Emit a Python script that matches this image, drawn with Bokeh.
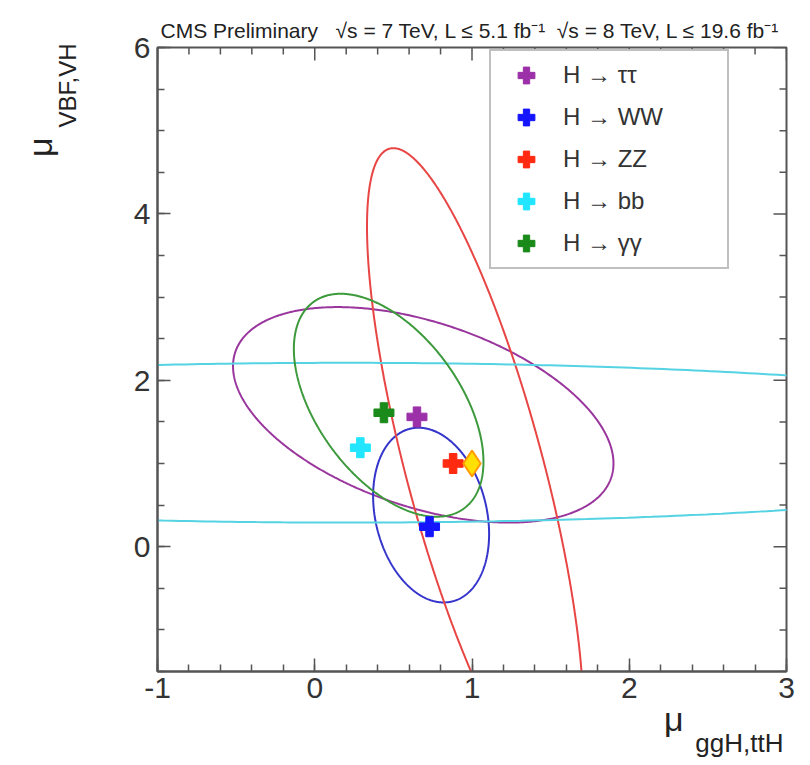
import numpy as np
from bokeh.plotting import figure
from bokeh.models import (Range1d, LinearAxis, SingleIntervalTicker, Legend, LegendItem, Title,
                          CustomJSTickFormatter)
from bokeh.embed import file_html
from bokeh.resources import INLINE

# ---------------- data ----------------
channels = ["H \u2192 \u03c4\u03c4", "H \u2192 WW", "H \u2192 ZZ", "H \u2192 bb", "H \u2192 \u03b3\u03b3"]
best_x = [0.65, 0.73, 0.88, 0.29, 0.44]
best_y = [1.56, 0.24, 1.00, 1.19, 1.61]
marker_colors = ["#9b30a8", "#1414ff", "#ff2a10", "#22e6ff", "#1a8a1a"]
line_colors = ["#99359c", "#3535cc", "#e84545", "#55d3e3", "#3c9a3c"]
# 68% CL contours: centre, offset of the topmost point, half-width at the centre height
cont_cx = [0.69, 0.74, 1.02, 0.20, 0.47]
cont_cy = [1.585, 0.38, 0.92, 1.25, 1.70]
cont_dx = [-0.545, -0.08, -0.52, 0.0, -0.305]
cont_dy = [1.295, 1.05, 3.87, 0.96, 1.34]
cont_w = [1.08, 0.36, 0.45, 5.2, 0.52]
sm_x = [1.0]
sm_y = [1.0]

x_lo, x_hi, x_major, x_minor_n = -1, 3, 1, 5
y_lo, y_hi, y_major, y_minor_n = -1.5, 6, 2, 4

FONT = "Liberation Sans"
AXC = "#555555"
FRAME_W, FRAME_H = 629, 624
NBSP = "\u00a0"

p = figure(width=800, height=762, output_backend="svg", toolbar_location=None,
           x_range=Range1d(x_lo, x_hi), y_range=Range1d(y_lo, y_hi),
           min_border_left=157, min_border_right=14, min_border_top=47, min_border_bottom=91,
           x_axis_location=None, y_axis_location=None)
p.grid.visible = False
p.outline_line_color = AXC
p.outline_line_width = 2


def style_axis(ax):
    ax.axis_line_color = AXC
    ax.axis_line_width = 2
    ax.major_tick_line_color = AXC
    ax.minor_tick_line_color = AXC
    ax.major_tick_line_width = 1.5
    ax.minor_tick_line_width = 1.5
    ax.major_tick_in = 13
    ax.major_tick_out = 0
    ax.minor_tick_in = 7
    ax.minor_tick_out = 0
    ax.major_label_text_font = FONT
    ax.major_label_text_font_size = "30px"
    ax.major_label_text_color = "#333333"


xb = LinearAxis(ticker=SingleIntervalTicker(interval=x_major, num_minor_ticks=x_minor_n))
style_axis(xb)
xb.formatter = CustomJSTickFormatter(code="return tick.toFixed(0)")
xb.major_label_standoff = 6
p.add_layout(xb, "below")

yl = LinearAxis(ticker=SingleIntervalTicker(interval=y_major, num_minor_ticks=y_minor_n))
style_axis(yl)
# leading no-break spaces keep room between the tick labels and the axis title
yl.formatter = CustomJSTickFormatter(code="return '\\u00a0'.repeat(6) + tick.toFixed(0)")
yl.major_label_standoff = 7
p.add_layout(yl, "left")

# ticks on the top and right edges (ROOT style), drawn inside the frame
xt = np.arange(x_lo, x_hi + 1e-9, x_major / x_minor_n)
xt_major = np.isclose(np.mod(xt - x_lo, x_major), 0) | np.isclose(np.mod(xt - x_lo, x_major), x_major)
xt_len = np.where(xt_major, 13, 7) * (y_hi - y_lo) / FRAME_H
p.segment(x0=xt, y0=np.full(len(xt), y_hi), x1=xt, y1=y_hi - xt_len, line_color=AXC, line_width=1.5)
yt = np.arange(y_lo, y_hi + 1e-9, y_major / y_minor_n)
yt_major = np.isclose(np.mod(yt, y_major), 0) | np.isclose(np.mod(yt, y_major), y_major)
yt_len = np.where(yt_major, 13, 7) * (x_hi - x_lo) / FRAME_W
p.segment(x0=np.full(len(yt), x_hi), y0=yt, x1=x_hi - yt_len, y1=yt, line_color=AXC, line_width=1.5)

# contours
t = np.linspace(0, 2 * np.pi, 600)
for i in range(len(channels)):
    xs = cont_cx[i] + cont_dx[i] * np.cos(t) + cont_w[i] * np.sin(t)
    ys = cont_cy[i] + cont_dy[i] * np.cos(t)
    p.line(xs, ys, line_color=line_colors[i], line_width=2)

# best-fit points
items = []
for i in range(len(channels)):
    r = p.scatter([best_x[i]], [best_y[i]], marker="plus", size=20,
                  fill_color=marker_colors[i], line_color=marker_colors[i], line_width=1)
    items.append(LegendItem(label=channels[i], renderers=[r]))
# SM expectation
p.scatter(sm_x, sm_y, marker="diamond", size=26, fill_color="#ffe000", line_color="#ff9a00", line_width=2)

legend = Legend(items=items, location=(332, 402))
legend.label_text_font = FONT
legend.label_text_font_size = "24px"
legend.label_text_color = "#333333"
legend.label_height = 42
legend.glyph_height = 42
legend.glyph_width = 64
legend.label_standoff = 5
legend.label_width = 161
legend.spacing = 0
legend.padding = 3
legend.margin = 0
legend.border_line_color = "#808080"
legend.border_line_width = 2
legend.background_fill_color = "white"
legend.background_fill_alpha = 1
p.add_layout(legend, "center")


def title(text, side, size, align, offset, standoff, valign):
    p.add_layout(Title(text=text, align=align, offset=offset, standoff=standoff, vertical_align=valign,
                       text_font=FONT, text_font_size=size, text_color="#222222",
                       text_font_style="normal"), side)


title("CMS Preliminary" + NBSP * 2 + " \u221as = 7 TeV, L \u2264 5.1 fb\u207b\u00b9" + NBSP +
      " \u221as = 8 TeV, L \u2264 19.6 fb\u207b\u00b9",
      "above", "21px", "left", 3, 12, "bottom")
title("\u03bc", "below", "34px", "right", 103, -2, "top")
title("ggH,ttH", "below", "26px", "right", 3, -21, "top")
title("VBF,VH", "left", "24px", "right", -4, 0, "bottom")
title("\u03bc", "left", "34px", "right", 90, -14, "bottom")

open("out.html", "w").write(file_html(p, INLINE))
